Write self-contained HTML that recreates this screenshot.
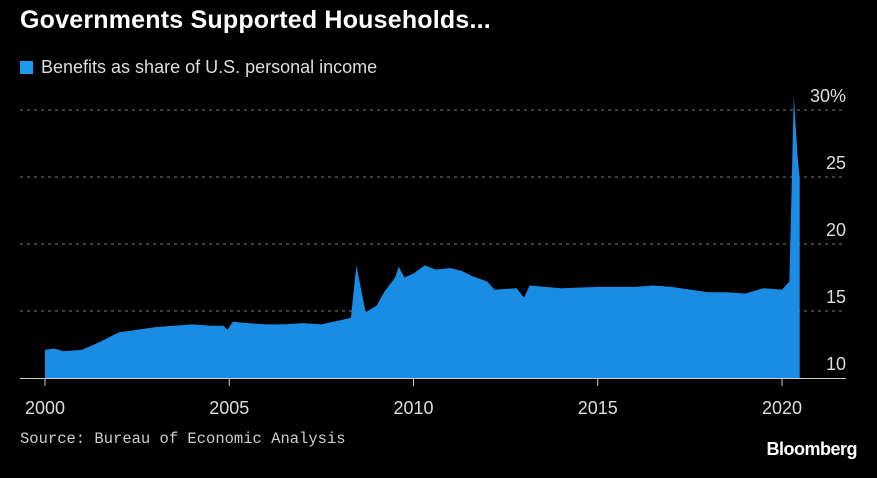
<!DOCTYPE html>
<html><head><meta charset="utf-8"><style>
body{margin:0;background:#000;width:877px;height:478px;overflow:hidden;font-family:"Liberation Sans",sans-serif;color:#fff}
.t{position:absolute;left:20px;top:6px;font-size:25px;font-weight:bold;letter-spacing:0.2px}
.lg{position:absolute;left:20px;top:57px;font-size:18px;color:#ddd}
.lg span{display:inline-block;width:13px;height:13px;background:#1e9bf0;margin-right:8px;vertical-align:-1px}
.src{position:absolute;left:20px;top:430px;font-family:"Liberation Mono",monospace;font-size:15.5px;color:#ccc}
.bb{position:absolute;right:20px;top:439px;font-size:18px;font-weight:bold;letter-spacing:-0.5px}
</style></head><body>
<div class="t">Governments Supported Households...</div>
<div class="lg"><span></span>Benefits as share of U.S. personal income</div>
<svg id="c" width="877" height="478" style="position:absolute;left:0;top:0"></svg>
<div class="src">Source: Bureau of Economic Analysis</div>
<div class="bb">Bloomberg</div>
<script>
const years=[2000,2000.25,2000.5,2001,2001.5,2002,2002.5,2003,2003.5,2004,2004.5,2004.85,2004.95,2005.1,2005.5,2006,2006.5,2007,2007.5,2008,2008.3,2008.45,2008.7,2009,2009.2,2009.5,2009.6,2009.75,2010,2010.3,2010.6,2011,2011.3,2011.6,2012,2012.2,2012.8,2013,2013.15,2014,2015,2016,2016.5,2017,2017.5,2018,2018.5,2019,2019.5,2020,2020.2,2020.32,2020.42,2020.48];
const values=[12.1,12.2,12.0,12.1,12.7,13.4,13.6,13.8,13.9,14.0,13.9,13.9,13.6,14.2,14.1,14.0,14.0,14.1,14.0,14.3,14.5,18.4,14.9,15.4,16.4,17.5,18.3,17.5,17.8,18.4,18.1,18.2,18.0,17.6,17.2,16.6,16.7,16.0,16.9,16.7,16.8,16.8,16.9,16.8,16.6,16.4,16.4,16.3,16.7,16.6,17.2,31.1,26.6,24.9];
const yTicks=[10,15,20,25,30];
const xTicks=[2000,2005,2010,2015,2020];
const svg=document.getElementById('c');const NS='http://www.w3.org/2000/svg';
const X=y=>45+(y-2000)*36.85, Y=v=>378-(v-10)*13.4;
function mk(t,a){const e=document.createElementNS(NS,t);for(const k in a)e.setAttribute(k,a[k]);svg.appendChild(e);return e;}
yTicks.forEach((v,i)=>{
 if(v>10){const l=mk('line',{x1:20,x2:846,y1:Y(v),y2:Y(v),stroke:'#777','stroke-dasharray':'3,4','stroke-width':1});
 
 }
 const t=mk('text',{x:846,y:Y(v)-8,'text-anchor':'end',fill:'#ddd','font-size':18,'font-family':'Liberation Sans, sans-serif'});
 t.textContent=v+(i===yTicks.length-1?'%':'');
 
 
});
let d='M'+X(years[0])+','+Y(10);
years.forEach((y,i)=>{d+=' L'+X(y).toFixed(1)+','+Y(values[i]).toFixed(1);});
d+=' L'+X(years[years.length-1])+','+Y(10)+' Z';
const a=mk('path',{d:d,fill:'#1a8ce3'});


const ax=mk('line',{x1:20,x2:846,y1:378.5,y2:378.5,stroke:'#ccc','stroke-width':1});


xTicks.forEach(y=>{
 const tk=mk('line',{x1:X(y),x2:X(y),y1:379,y2:386,stroke:'#ccc','stroke-width':1});
 
 
 const t=mk('text',{x:X(y),y:414,'text-anchor':'middle',fill:'#ddd','font-size':18,'font-family':'Liberation Sans, sans-serif'});
 t.textContent=y;
 
 
});
</script>
</body></html>
